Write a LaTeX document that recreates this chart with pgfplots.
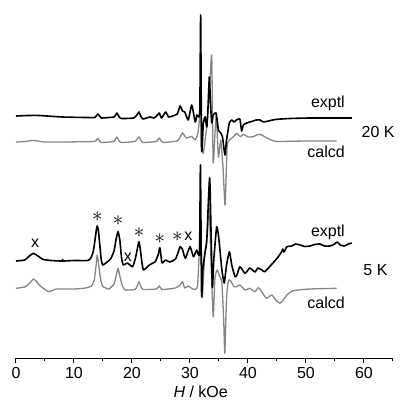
\documentclass[border=0pt]{standalone}
\usepackage{fontspec}
\setmainfont{Liberation Sans}
\usepackage{pgfplots}
\pgfplotsset{compat=1.18}

\begin{document}
\begin{tikzpicture}[font=\fontsize{16}{19}\selectfont,
  pk/.style={font=\fontsize{21}{24}\selectfont, inner sep=0pt}]
\useasboundingbox (-16pt,-44pt) rectangle (384pt,358pt);
\begin{axis}[
  at={(0pt,0pt)}, anchor=south west,
  scale only axis,
  width=377pt, height=358pt,
  xmin=0, xmax=65, ymin=0, ymax=358,
  clip=false,
  axis y line=none,
  axis x line*=bottom,
  axis line style={line width=1pt},
  xtick={0,10,...,60},
  minor xtick={5,15,...,65},
  tick align=outside,
  major tick length=5pt, minor tick length=3pt,
  tick style={black, line width=1pt},
  /pgf/number format/assume math mode=true,
  xticklabel style={yshift=-1pt},
  xlabel={\textit{H} / kOe},
  xlabel style={at={(rel axis cs:0.49,-0.094)}, anchor=center},
  every axis plot/.append style={smooth, tension=0.3, line join=round},
]
% 20 K calcd
\addplot[black!48, line width=1.3pt] coordinates {
(0,216) (1.5,216.5) (3,217.5) (5,216) (8,216) (13.5,216.5) (13.9,218.5) (14.1,219.5) (14.4,217) (14.7,215.5)
(16.9,216.5) (17.2,219.5) (17.4,221) (17.7,218) (18.1,215.5)
(20.5,216.5) (20.9,219) (21.2,221) (21.5,218) (21.9,215.5) (24.2,216.5) (24.5,219) (24.7,220) (25.0,217.5) (25.4,215.5)
(27.8,217) (28.3,221) (28.7,225) (29.1,222) (29.4,220) (30.3,221.5) (30.9,218) (31.4,226) (31.84,248) (32.0,211) (32.3,205) (32.88,231)
(33.3,260) (33.74,303) (34.0,195) (34.5,243) (34.9,201) (35.3,218) (35.7,190) (36.05,153)
(36.4,211) (36.8,218) (37.2,219.7) (37.6,222) (38.05,224.7) (38.7,221.3) (39.2,223.7) (40.0,221) (40.9,221.3) (41.5,223) (42.1,223.7)
(43.2,220.3) (44,218) (45,216.5) (50,217) (55.3,217)
};
% 20 K exptl
\addplot[black, line width=1.6pt] coordinates {
(0,242) (2,242.5) (4,242.5) (8,241) (12,240.5) (13.6,240.5) (13.9,242.5) (14.1,244) (14.4,242) (14.7,240) (16.9,241) (17.2,243.5) (17.4,245)
(17.7,242) (18.1,239.5) (20.3,240) (20.9,243.5) (21.2,246) (21.5,242) (21.9,239) (23.1,241) (23.8,240) (24.4,243) (24.7,245) (25.1,240)
(25.8,246) (26.3,241) (27.0,242) (27.8,244) (28.3,252) (28.7,247) (29.1,246) (29.7,238)
(30.3,253) (30.9,236) (31.2,243) (31.5,241) (31.7,250) (31.84,343) (32.0,208) (32.3,235)
(32.6,241) (32.9,231) (33.1,250) (33.33,281) (33.5,260) (33.74,235) (34.0,243) (34.5,245)
(34.9,228) (35.3,225) (35.6,221) (36.03,203) (36.3,218) (36.78,235) (37.2,238) (37.6,236)
(38.0,238) (38.6,239) (38.9,227) (39.2,233) (39.8,235) (40.9,237) (41.4,238) (42.1,238)
(42.7,236) (44.7,238.5) (47.2,239.5) (50.7,240) (57.9,240)
};
% 5 K calcd
\addplot[black!48, line width=1.3pt] coordinates {
(0,69.7) (1.5,71) (2.4,75) (3.0,79) (3.6,76) (4.2,72) (5.6,66.3) (7,69) (10,69) (12,70) (13.0,72) (13.5,78) (13.8,92) (14.0,103)
(14.2,96) (14.5,82) (14.9,72) (16,69) (16.9,74) (17.3,83) (17.6,89.7) (17.9,82) (18.3,73) (18.8,68) (20.5,68.5) (20.9,72) (21.2,76.3) (21.5,72) (21.9,68.5)
(24.2,69) (24.7,72) (25.2,68.5) (27.5,70) (28.3,73) (28.7,76.3) (29.1,70) (29.7,72) (30.5,69) (31.3,72)
(31.8,130) (32.1,60) (32.5,100) (33.0,125) (33.3,150) (33.6,100) (34.0,41.3) (34.3,80)
(34.7,88) (35.1,82) (35.5,75) (35.8,40) (36.0,4.7) (36.3,60) (36.6,76.3) (36.9,78) (37.6,71.3)
(38.05,71.3) (38.6,73) (39.5,68) (40.3,69.7) (41.2,66.3) (41.8,70.3) (42.5,65) (43.2,59.7) (44.1,63)
(44.8,58) (45.5,54.7) (46.2,59) (46.7,63) (47.8,67.3) (50.7,69) (55.3,69.7)
};
% 5 K exptl
\addplot[black, line width=1.6pt] coordinates {
(0,97) (1.5,98) (2.3,102) (3.0,104.7) (3.8,102) (4.6,98.7) (6,97.5) (8,97) (8.05,98.5) (8.1,97) (10,97.5) (12.4,97.5)
(12.9,100) (13.3,106) (13.6,117) (13.85,128) (14.0,132) (14.2,128) (14.45,113) (14.7,98) (14.95,93) (15.5,95)
(16.3,99) (16.9,107) (17.3,120) (17.6,126.3) (17.9,118) (18.2,100)
(18.5,93) (19.2,95) (20.1,91.3) (20.6,100) (20.95,110) (21.2,116.3) (21.45,108) (21.7,96) (22.0,88) (23.0,93)
(24.0,96.3) (24.5,103) (24.8,110.3) (25.0,102) (25.2,95) (25.8,98) (26.5,96) (27.5,99) (28.1,108) (28.3,111.3)
(28.7,108.7) (29.2,99.7) (30.0,111.3) (30.6,101.3) (31.15,108) (31.64,105) (31.8,193) (32.0,63)
(32.2,88) (32.6,106) (32.9,118) (33.4,180) (33.84,71.3) (34.1,98) (34.6,131.3) (35.0,118)
(35.5,88) (35.9,75) (36.3,93) (36.8,106.3) (37.2,93) (37.76,81.3) (38.1,83) (38.6,91.3)
(39.5,84.7) (40.3,90) (41.2,86) (41.7,90) (42.4,88) (42.9,86.3) (44.3,95) (45.2,101)
(45.8,106.3) (46.0,109) (46.2,106) (46.7,111.3) (47.5,112) (48.2,114) (49.0,113) (49.8,111.5)
(50.7,112) (51.5,113.5) (52.4,114) (53.2,112) (54.1,112) (54.8,113.5) (55.4,116) (55.9,113)
(56.6,112) (57.3,114) (57.9,115)
};
% labels
\node[anchor=east] at (axis cs:57.3,255) {exptl};
\node[anchor=east] at (axis cs:57.3,206) {calcd};
\node[anchor=west] at (axis cs:59,226) {20 K};
\node[anchor=east] at (axis cs:57.3,126) {exptl};
\node[anchor=east] at (axis cs:57.3,55) {calcd};
\node[anchor=west] at (axis cs:59.3,88) {5 K};
% peak marks
\node[pk] at (axis cs:14.0,141) {$\ast$};
\node[pk] at (axis cs:17.6,137) {$\ast$};
\node[pk] at (axis cs:21.2,125) {$\ast$};
\node[pk] at (axis cs:24.8,119) {$\ast$};
\node[pk] at (axis cs:27.8,121) {$\ast$};
\node at (axis cs:3.3,115) {x};
\node at (axis cs:19.3,101) {x};
\node at (axis cs:29.7,122) {x};
\end{axis}
\end{tikzpicture}
\end{document}
